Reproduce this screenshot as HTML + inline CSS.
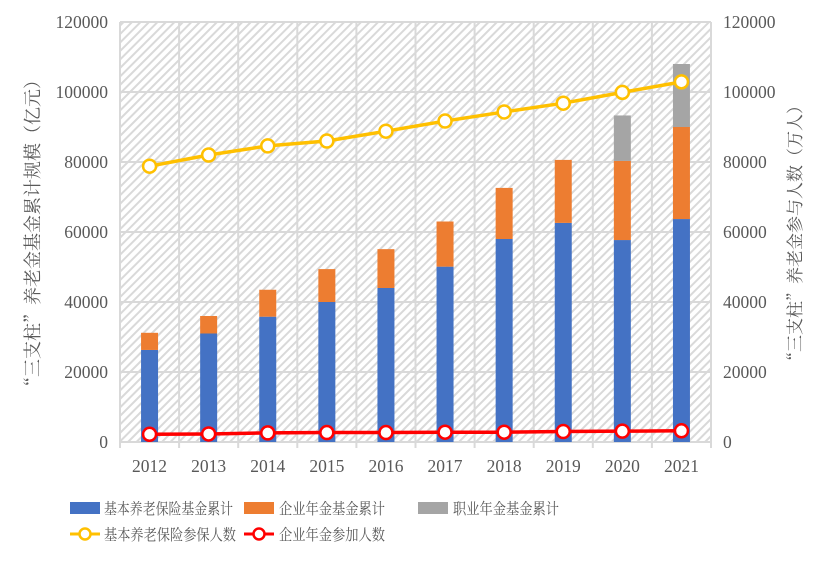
<!DOCTYPE html>
<html><head><meta charset="utf-8"><style>
html,body{margin:0;padding:0;background:#fff;}
svg{display:block;}
text{font-family:"Liberation Serif","Noto Serif CJK SC",serif;}
.t{font-size:17.5px;fill:#595959;}
.cn{font-family:"Noto Serif CJK SC","Noto Sans CJK SC",serif;font-size:15.5px;fill:#595959;}
.ti{font-family:"Noto Serif CJK SC","Noto Sans CJK SC",serif;fill:#595959;}
</style></head><body>
<svg width="832" height="564" viewBox="0 0 832 564" xmlns="http://www.w3.org/2000/svg">
<defs>
<pattern id="h" width="6" height="6" patternUnits="userSpaceOnUse" patternTransform="rotate(45)">
<rect width="6" height="6" fill="#fff"/>
<rect x="0" y="0" width="2" height="6" fill="#d9d9d9"/>
</pattern>
</defs>
<rect x="120" y="22" width="591" height="420" fill="url(#h)"/>
<g stroke="#d9d9d9" stroke-width="2">
<line x1="120" y1="22" x2="711" y2="22"/><line x1="120" y1="92" x2="711" y2="92"/>
<line x1="120" y1="162" x2="711" y2="162"/><line x1="120" y1="232" x2="711" y2="232"/>
<line x1="120" y1="302" x2="711" y2="302"/><line x1="120" y1="372" x2="711" y2="372"/>
<line x1="120" y1="442" x2="711" y2="442"/>
<line x1="120" y1="22" x2="120" y2="448"/><line x1="179.1" y1="22" x2="179.1" y2="448"/>
<line x1="238.2" y1="22" x2="238.2" y2="448"/><line x1="297.3" y1="22" x2="297.3" y2="448"/>
<line x1="356.4" y1="22" x2="356.4" y2="448"/><line x1="415.5" y1="22" x2="415.5" y2="448"/>
<line x1="474.6" y1="22" x2="474.6" y2="448"/><line x1="533.7" y1="22" x2="533.7" y2="448"/>
<line x1="592.8" y1="22" x2="592.8" y2="448"/><line x1="651.9" y1="22" x2="651.9" y2="448"/>
<line x1="711" y1="22" x2="711" y2="448"/>
</g>
<g id="bars"></g>
<g class="t" text-anchor="end">
<text x="108" y="28">120000</text><text x="108" y="98">100000</text><text x="108" y="168">80000</text>
<text x="108" y="238">60000</text><text x="108" y="308">40000</text><text x="108" y="378">20000</text><text x="108" y="448">0</text>
</g>
<g class="t" text-anchor="start">
<text x="723" y="28">120000</text><text x="723" y="98">100000</text><text x="723" y="168">80000</text>
<text x="723" y="238">60000</text><text x="723" y="308">40000</text><text x="723" y="378">20000</text><text x="723" y="448">0</text>
</g>
<g class="t" text-anchor="middle" id="xl"></g>
<text class="ti" transform="translate(39,233) rotate(-90)" text-anchor="middle" style="font-size:18px">“三支柱”养老金基金累计规模（亿元）</text>
<text class="ti" transform="translate(801,233) rotate(-90)" text-anchor="middle" style="font-size:17px">“三支柱”养老金参与人数（万人）</text>
<rect x="70" y="502" width="30" height="12" fill="#4472c4"/><text class="cn" x="104" y="514" textLength="129" lengthAdjust="spacingAndGlyphs">基本养老保险基金累计</text>
<rect x="244" y="502" width="30" height="12" fill="#ed7d31"/><text class="cn" x="279" y="514" textLength="106" lengthAdjust="spacingAndGlyphs">企业年金基金累计</text>
<rect x="418" y="502" width="30" height="12" fill="#a5a5a5"/><text class="cn" x="453" y="514" textLength="106" lengthAdjust="spacingAndGlyphs">职业年金基金累计</text>
<line x1="70" y1="534" x2="100" y2="534" stroke="#ffc000" stroke-width="3"/><circle cx="85" cy="534" r="5.5" fill="#fff" stroke="#ffc000" stroke-width="2.5"/>
<text class="cn" x="104" y="540" textLength="132" lengthAdjust="spacingAndGlyphs">基本养老保险参保人数</text>
<line x1="244" y1="534" x2="274" y2="534" stroke="#ff0000" stroke-width="3"/><circle cx="259" cy="534" r="5.5" fill="#fff" stroke="#ff0000" stroke-width="2.5"/>
<text class="cn" x="279" y="540" textLength="106" lengthAdjust="spacingAndGlyphs">企业年金参加人数</text>
<g id="lines"></g>
</svg>
<script>
var ns="http://www.w3.org/2000/svg";
var blue=[26300,31000,35800,40000,44000,50100,58000,62600,57700,63700];
var tot=[31200,36000,43500,49400,55100,63000,72600,80600,80300,90000];
var gray=[0,0,0,0,0,0,0,0,93300,108000];
var yel=[78800,82000,84600,86000,88800,91700,94300,96800,99900,102900];
var red=[2200,2300,2600,2700,2700,2800,2800,3000,3100,3200];
function Y(v){return 442-v*0.0035;}
function cx(i){return 149.55+59.1*i;}
var b=document.getElementById("bars"),l=document.getElementById("lines"),xl=document.getElementById("xl");
function r(x,y1,y2,c){var e=document.createElementNS(ns,"rect");e.setAttribute("x",x-8.5);e.setAttribute("y",Y(y2));e.setAttribute("width",17);e.setAttribute("height",Y(y1)-Y(y2));e.setAttribute("fill",c);b.appendChild(e);}
for(var i=0;i<10;i++){var x=cx(i);r(x,0,blue[i],"#4472c4");r(x,blue[i],tot[i],"#ed7d31");if(gray[i])r(x,tot[i],gray[i],"#a5a5a5");
var t=document.createElementNS(ns,"text");t.setAttribute("x",x);t.setAttribute("y",472);t.textContent=2012+i;xl.appendChild(t);}
function line(d,c){var p=document.createElementNS(ns,"polyline");p.setAttribute("points",d.map(function(v,i){return cx(i)+","+Y(v)}).join(" "));p.setAttribute("fill","none");p.setAttribute("stroke",c);p.setAttribute("stroke-width",3.5);l.appendChild(p);
d.forEach(function(v,i){var e=document.createElementNS(ns,"circle");e.setAttribute("cx",cx(i));e.setAttribute("cy",Y(v));e.setAttribute("r",6.5);e.setAttribute("fill","#fff");e.setAttribute("stroke",c);e.setAttribute("stroke-width",2.5);l.appendChild(e);});}
line(yel,"#ffc000");line(red,"#ff0000");
</script>
</body></html>
